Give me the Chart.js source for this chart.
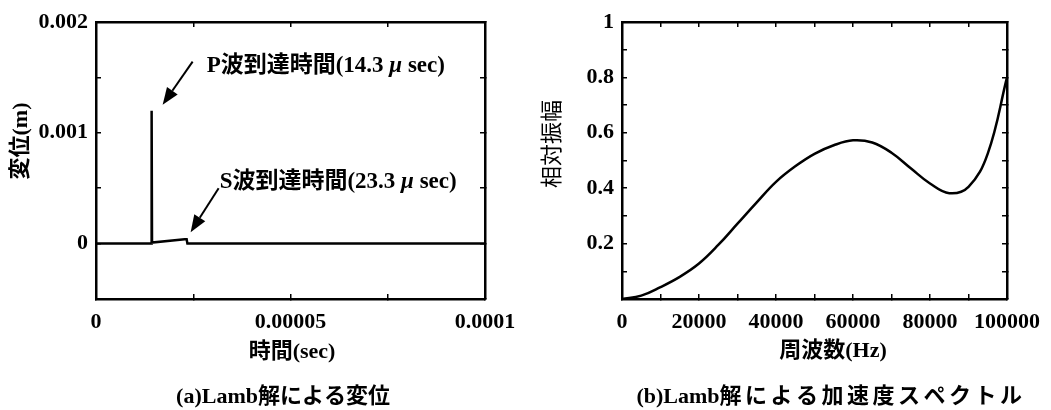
<!DOCTYPE html>
<html>
<head>
<meta charset="utf-8">
<script src="https://cdn.jsdelivr.net/npm/chart.js@4.4.0/dist/chart.umd.min.js"></script>
<style>
  html, body { margin: 0; padding: 0; background: #fff; }
  .panel { position: absolute; top: 0; height: 410px; }
  #left { left: 0; width: 520px; }
  #right { left: 520px; width: 531px; }
</style>
</head>
<body>
<div class="panel" id="left"><canvas id="lambDisp"></canvas></div>
<div class="panel" id="right"><canvas id="lambSpec"></canvas></div>
<script>
// (a) surface displacement, Lamb's solution
var dispTime  = [0, 1.43e-5, 1.43e-5, 1.44e-5, 2.28e-5, 2.33e-5, 2.35e-5, 1e-4];
var dispValue = [0, 0, 0.0012, 0.00001, 0.00004, 0.00004, 0, 0];
var dispTimeLabels  = [0, 0.00005, 0.0001];
var dispValueLabels = [0, 0.001, 0.002];

// P / S wave arrivals (sec, m)
var arrivalWave = ['P', 'S'];
var arrivalTime = [14.3e-6, 23.3e-6];
var arrivalDisp = [0.0012, 0.00004];

// (b) acceleration spectrum, Lamb's solution
var specFreq = [0, 5000, 10000, 15000, 20000, 25000, 30000, 35000, 40000, 45000, 50000,
                55000, 60000, 65000, 70000, 75000, 80000, 85000, 90000, 95000, 100000];
var specAmp  = [0, 0.012, 0.043, 0.08, 0.128, 0.195, 0.272, 0.349, 0.423, 0.479, 0.524,
                0.555, 0.573, 0.565, 0.528, 0.472, 0.417, 0.382, 0.405, 0.525, 0.80];
var specFreqLabels = [0, 20000, 40000, 60000, 80000, 100000];
var specAmpLabels  = [0.2, 0.4, 0.6, 0.8, 1];

var FAMILY = "'Liberation Serif', 'Noto Sans CJK JP', serif";
var TICK_SIZE = 22;
var TEXT_SIZE = 22;
var NOTE_SIZE = 23;

function toPoints(xs, ys) {
  return xs.map(function (x, i) { return { x: x, y: ys[i] }; });
}

// label only the listed values, leave the minor ticks blank
function labelled(list, step) {
  return function (v) {
    for (var i = 0; i < list.length; i++) {
      if (Math.abs(v - list[i]) < step / 10) return String(list[i]);
    }
    return '';
  };
}

function axis(pos, min, max, step, labels, size) {
  var horiz = pos === 'top' || pos === 'bottom';
  return {
    type: 'linear',
    position: pos,
    min: min,
    max: max,
    border: { display: true, color: '#000', width: 2.5 },
    grid: { display: true, drawOnChartArea: false, drawTicks: true, tickLength: -5, color: '#000', lineWidth: 1.5 },
    ticks: {
      stepSize: step,
      display: !!labels,
      autoSkip: false,
      maxRotation: 0,
      color: '#000',
      padding: horiz ? 15 : 13,
      font: { family: FAMILY, size: TICK_SIZE, weight: 'bold' },
      callback: labels ? labelled(labels, step) : function () { return ''; }
    },
    afterFit: function (scale) {
      if (horiz) scale.height = size; else scale.width = size;
      // plot edges are set by layout.padding alone
      scale.paddingLeft = scale.paddingRight = scale.paddingTop = scale.paddingBottom = 0;
    }
  };
}

// axis titles and panel captions; each item is a run of [text, letterSpacing] parts
var panelText = {
  id: 'panelText',
  afterDraw: function (chart, args, opts) {
    var ctx = chart.ctx;
    ctx.save();
    ctx.fillStyle = '#000';
    ctx.textAlign = 'left';
    ctx.textBaseline = 'middle';
    opts.items.forEach(function (it) {
      ctx.save();
      ctx.font = (it.weight || 'bold') + ' ' + TEXT_SIZE + 'px ' + FAMILY;
      var parts = typeof it.text === 'string' ? [[it.text, '0px']] : it.text;
      var widths = parts.map(function (p) {
        ctx.letterSpacing = p[1];
        return ctx.measureText(p[0]).width;
      });
      var total = widths.reduce(function (a, b) { return a + b; }, 0);
      ctx.translate(it.x, it.y);
      if (it.rotate) ctx.rotate(it.rotate);
      var x = -total / 2;
      parts.forEach(function (p, i) {
        ctx.letterSpacing = p[1];
        ctx.fillText(p[0], x, 0);
        x += widths[i];
      });
      ctx.restore();
    });
    ctx.restore();
  }
};

// arrows pointing at the wave arrivals
var arrivalArrows = {
  id: 'arrivalArrows',
  afterDatasetsDraw: function (chart, args, opts) {
    var ctx = chart.ctx, xs = chart.scales.x, ys = chart.scales.y;
    ctx.save();
    ctx.strokeStyle = '#000';
    ctx.fillStyle = '#000';
    ctx.lineWidth = 2;
    arrivalTime.forEach(function (t, i) {
      var o = opts.offsets[i];
      var tipX = xs.getPixelForValue(t) + o.tip[0];
      var tipY = ys.getPixelForValue(arrivalDisp[i]) + o.tip[1];
      var tailX = tipX + o.tail[0], tailY = tipY + o.tail[1];
      var a = Math.atan2(tipY - tailY, tipX - tailX);
      var hl = 17, hw = 6.5;
      var bx = tipX - hl * Math.cos(a), by = tipY - hl * Math.sin(a);
      ctx.beginPath();
      ctx.moveTo(tailX, tailY);
      ctx.lineTo(bx, by);
      ctx.stroke();
      ctx.beginPath();
      ctx.moveTo(tipX, tipY);
      ctx.lineTo(bx + hw * Math.sin(a), by - hw * Math.cos(a));
      ctx.lineTo(bx - hw * Math.sin(a), by + hw * Math.cos(a));
      ctx.closePath();
      ctx.fill();

      var parts = [
        [arrivalWave[i] + '波到達時間(' + (t * 1e6).toFixed(1) + ' ', 'bold'],
        ['μ', 'italic bold'],
        [' sec)', 'bold']
      ];
      var x = tipX + o.text[0], y = tipY + o.text[1];
      ctx.textAlign = 'left';
      ctx.textBaseline = 'middle';
      parts.forEach(function (p) {
        ctx.font = p[1] + ' ' + NOTE_SIZE + 'px ' + FAMILY;
        ctx.fillText(p[0], x, y);
        x += ctx.measureText(p[0]).width;
      });
    });
    ctx.restore();
  }
};

var line = {
  borderColor: '#000',
  borderWidth: 2.5,
  pointRadius: 0,
  fill: false
};

new Chart(document.getElementById('lambDisp'), {
  type: 'line',
  data: {
    datasets: [Object.assign({ data: toPoints(dispTime, dispValue), tension: 0 }, line)]
  },
  options: {
    responsive: true,
    maintainAspectRatio: false,
    animation: false,
    layout: { padding: { left: 0, top: 22, right: 35, bottom: 0 } },
    scales: {
      x: axis('bottom', 0, 0.0001, 0.000025, dispTimeLabels, 111),
      x2: axis('top', 0, 0.0001, 0.000025, null, 0),
      y: axis('left', -0.0005, 0.002, 0.0005, dispValueLabels, 96),
      y2: axis('right', -0.0005, 0.002, 0.0005, null, 0)
    },
    plugins: {
      legend: { display: false },
      tooltip: { enabled: false },
      arrivalArrows: {
        offsets: [
          { tip: [11, -6], tail: [30, -43], text: [44, -39] },
          { tip: [4, -7], tail: [28, -44], text: [29, -50] }
        ]
      },
      panelText: {
        items: [
          { text: '変位(m)', x: 21, y: 141, rotate: -Math.PI / 2 },
          { text: '時間(sec)', x: 292, y: 352 },
          { text: '(a)Lamb解による変位', x: 283, y: 397 }
        ]
      }
    }
  },
  plugins: [arrivalArrows, panelText]
});

new Chart(document.getElementById('lambSpec'), {
  type: 'line',
  data: {
    datasets: [Object.assign({ data: toPoints(specFreq, specAmp), tension: 0.4 }, line)]
  },
  options: {
    responsive: true,
    maintainAspectRatio: false,
    animation: false,
    layout: { padding: { left: 0, top: 22, right: 44, bottom: 0 } },
    scales: {
      x: axis('bottom', 0, 100000, 10000, specFreqLabels, 111),
      x2: axis('top', 0, 100000, 10000, null, 0),
      y: axis('left', 0, 1, 0.1, specAmpLabels, 102),
      y2: axis('right', 0, 1, 0.1, null, 0)
    },
    plugins: {
      legend: { display: false },
      tooltip: { enabled: false },
      panelText: {
        items: [
          { text: '相対振幅', x: 33, y: 144, rotate: -Math.PI / 2, weight: 'normal' },
          { text: '周波数(Hz)', x: 313, y: 351 },
          { text: [['(b)Lamb', '0px'], ['解による加速度スペクトル', '3.5px']], x: 311, y: 397 }
        ]
      }
    }
  },
  plugins: [panelText]
});
</script>
</body>
</html>
